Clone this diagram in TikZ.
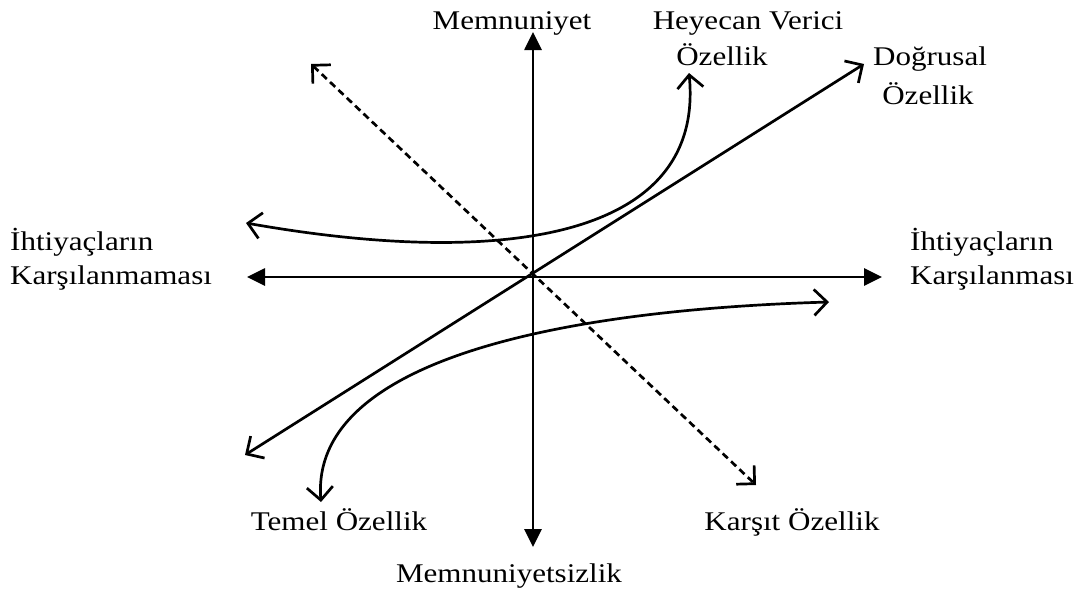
\documentclass[tikz,border=0pt]{standalone}
\usepackage{fontspec}
\usepackage{graphicx}
\setmainfont{Liberation Serif}
\usetikzlibrary{arrows.meta}
\newcommand\hst[1]{\scalebox{1.15}[1]{#1}}
\begin{document}
\begin{tikzpicture}[x=1pt,y=-1pt,
  lbl/.style={font=\fontsize{27}{33}\selectfont, inner sep=0pt, anchor=base},
  lblw/.style={lbl, anchor=base west},
  axis/.style={line width=2.7pt, {Triangle[length=18pt,width=17pt]}-{Triangle[length=18pt,width=17pt]}},
  barb/.style={line width=2.7pt, line cap=round, {Straight Barb[length=13pt,width=26pt,line width=2.7pt]}-{Straight Barb[length=13pt,width=26pt,line width=2.7pt]}},
  dsh/.style={barb, line cap=butt, dash pattern=on 7pt off 4.5pt}]
\path[use as bounding box] (0,0) rectangle (1084,589);
% endpoints
\coordinate (hl) at (247,277);
\coordinate (hr) at (882,277);
\coordinate (vt) at (533,32);
\coordinate (vb) at (533,547);
\coordinate (sl) at (245,455);
\coordinate (su) at (864,64);
\coordinate (dl) at (311,64);
\coordinate (dr) at (756,485);
\coordinate (el) at (246,223);
\coordinate (er) at (689,73);
\coordinate (tb) at (321,502);
\coordinate (tr) at (829,302);
% axes
\draw[axis] (hl) -- (hr);
\draw[axis] (vb) -- (vt);
% lines
\draw[barb] (sl) -- (su);
\draw[dsh] (dl) -- (dr);
\draw[barb] (el) .. controls (500,268) and (705,240) .. (er);
\draw[barb] (tb) .. controls (310,360) and (560,310) .. (tr);
% labels
\node[lbl] (mem) at (512,29) {\hst{Memnuniyet}};
\node[lbl] (heyA) at (748,29) {\hst{Heyecan Verici}};
\node[lbl] (heyB) at (722,65) {\hst{Özellik}};
\node[lbl] (dogA) at (930,65) {\hst{Doğrusal}};
\node[lbl] (dogB) at (928,104) {\hst{Özellik}};
\node[lblw] (lA) at (10,250) {\hst{İhtiyaçların}};
\node[lblw] (lB) at (10,284) {\hst{Karşılanmaması}};
\node[lblw] (rA) at (910,250) {\hst{İhtiyaçların}};
\node[lblw] (rB) at (910,284) {\hst{Karşılanması}};
\node[lbl] (tem) at (339,530) {\hst{Temel Özellik}};
\node[lbl] (kar) at (792,530) {\hst{Karşıt Özellik}};
\node[lbl] (mems) at (509,582) {\hst{Memnuniyetsizlik}};
\end{tikzpicture}
\end{document}
